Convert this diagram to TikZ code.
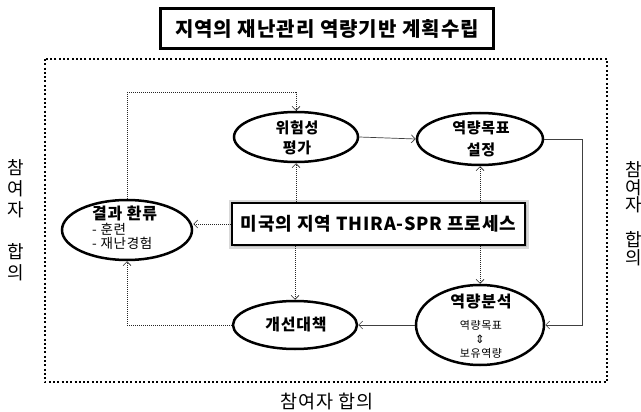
\documentclass[tikz,border=0pt]{standalone}
\usepackage{fontspec}
\setmainfont{Noto Sans CJK KR}[LetterSpace=5]
\newfontfamily\symfont{DejaVu Sans}
\usetikzlibrary{arrows.meta,shapes.geometric,shadows}
\begin{document}
\begin{tikzpicture}[x=1pt,y=-1pt,
  oval/.style={ellipse,draw,line width=2.5pt,inner sep=0pt},
  lbl/.style={inner sep=0pt,font=\bfseries\fontsize{15}{15}\selectfont},
  lblb/.style={inner sep=0pt,font=\bfseries\fontsize{16}{16}\selectfont},
  smalltxt/.style={inner sep=0pt,font=\fontsize{13.5}{13.5}\selectfont},
  tinytxt/.style={inner sep=0pt,font=\fontsize{11}{11}\selectfont},
  sidetxt/.style={inner sep=0pt,font=\fontsize{18}{18}\selectfont},
  dotc/.style={draw=black!85,line width=0.7pt,dash pattern=on 1pt off 1pt},
  solc/.style={draw=black!75,line width=0.7pt},
  arw/.style={-{Straight Barb[length=4pt,width=8pt]}}
]
\useasboundingbox (0,0) rectangle (641,412);
\fill[white] (0,0) rectangle (641,412);

% title
\node[draw,line width=2.2pt,minimum width=333pt,minimum height=40pt,inner sep=0pt,
  font=\bfseries\fontsize{20}{20}\selectfont] (title) at (327,28.5) {지역의 재난관리 역량기반 계획수립};

% outer dotted frame
\draw[line width=2pt,dash pattern=on 2pt off 2.3pt] (45,59) rectangle (607,382);

% ellipses
\node[oval,minimum width=124pt,minimum height=50pt] (ra) at (296,137) {};
\node[oval,minimum width=126pt,minimum height=52pt] (ct) at (480,139) {};
\node[oval,minimum width=130pt,minimum height=60pt] (fb) at (127,230) {};
\node[oval,minimum width=124pt,minimum height=48pt] (im) at (295,325) {};
\node[oval,minimum width=128pt,minimum height=80pt] (ca) at (480,325) {};

% ellipse texts
\node[lbl] (ra1) at (297,128) {위험성};
\node[lbl] (ra2) at (297,148) {평가};
\node[lbl] (ct1) at (481,128) {역량목표};
\node[lbl] (ct2) at (481,150) {설정};
\node[lblb,anchor=west] (fb1) at (92,213) {결과 환류};
\node[smalltxt,anchor=west] (fb2) at (92,229) {- 훈련};
\node[smalltxt,anchor=west] (fb3) at (92,243) {- 재난경험};
\node[lblb] (im1) at (296,325) {개선대책};
\node[lblb] (ca1) at (481,302) {역량분석};
\node[tinytxt] (ca2) at (481,325.5) {역량목표};
\node[inner sep=0pt,font=\symfont\fontsize{11.5}{11.5}\selectfont] (ca3) at (480,339) {⇕};
\node[tinytxt] (ca4) at (481,353) {보유역량};

% center box
\node[draw,line width=2.6pt,minimum width=293pt,minimum height=42pt,inner sep=0pt,fill=white,
  preaction={draw=black!15,line width=7pt},
  drop shadow={shadow xshift=2pt,shadow yshift=-2pt,fill=black!35},
  font=\bfseries\fontsize{18}{18}\selectfont] (bx) at (378.5,224) {미국의 지역 THIRA-SPR 프로세스};

% connectors
\draw[dotc,arw] (fb.north) |- ([yshift=18pt]ra.north) -- (ra.north);
\draw[solc,arw] (ra.east) -- (ct.west);
\draw[solc,arw] (ct.east) -| ([xshift=37pt]ca.east) -- (ca.east);
\draw[solc,arw] (ca.west) -- (im.east);
\draw[dotc,arw] (im.west) -| (fb.south);
\draw[dotc,arw] (bx.west) -- (bx.west -| fb.east);
\draw[dotc,arw] (bx.north -| ra.south) -- (ra.south);
\draw[dotc,arw] (bx.south -| im.north) -- (im.north);
\draw[dotc,arw] (bx.north -| ct.south) -- (ct.south);
\draw[dotc,arw] (bx.south -| ca.north) -- (ca.north);

% side texts
\foreach \c/\y [count=\i] in {참/168,여/189,자/210,합/252,의/273}
  \node[sidetxt] (l\i) at (16,\y) {\c};
\foreach \c/\y [count=\i] in {참/170,여/187.5,자/205,합/240,의/257.5}
  \node[sidetxt] (r\i) at (634,\y) {\c};

\node[inner sep=0pt,font=\fontsize{18.5}{18.5}\selectfont] (bt) at (327,402) {참여자 합의};
\end{tikzpicture}
\end{document}
